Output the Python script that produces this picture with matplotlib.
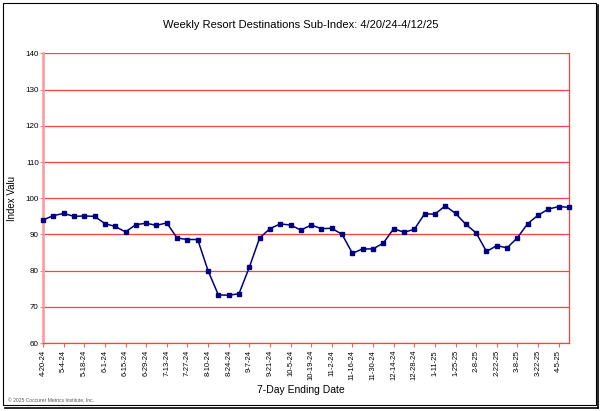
import matplotlib.pyplot as plt
import numpy as np
from matplotlib.patches import Rectangle
from matplotlib.lines import Line2D

plt.rcParams['font.family'] = ['Liberation Sans', 'DejaVu Sans']

# weekly index values, 4/20/24 .. 4/12/25
values = [94.0, 95.2, 95.8, 95.0, 95.1, 95.0, 93.0, 92.2, 90.7, 92.7,
          93.1, 92.5, 93.2, 89.0, 88.6, 88.6, 80.0, 73.3, 73.2, 73.6,
          80.9, 89.0, 91.6, 92.9, 92.6, 91.2, 92.6, 91.6, 91.7, 90.0,
          84.8, 86.0, 86.0, 87.6, 91.6, 90.6, 91.4, 95.7, 95.6, 97.9,
          95.8, 92.8, 90.4, 85.3, 86.9, 86.3, 89.1, 93.0, 95.3, 97.0,
          97.7, 97.5]

tick_labels = ['4-20-24', '5-4-24', '5-18-24', '6-1-24', '6-15-24', '6-29-24',
               '7-13-24', '7-27-24', '8-10-24', '8-24-24', '9-7-24', '9-21-24',
               '10-5-24', '10-19-24', '11-2-24', '11-16-24', '11-30-24',
               '12-14-24', '12-28-24', '1-11-25', '1-25-25', '2-8-25',
               '2-22-25', '3-8-25', '3-22-25', '4-5-25']

W, H = 602, 411
fig = plt.figure(figsize=(W / 100, H / 100), dpi=100)
ax = fig.add_axes([43 / W, 1 - 343 / H, (569 - 43) / W, (343 - 53.5) / H])

x = np.arange(len(values))
ax.plot(x, values, color='#000080', lw=1.1, marker='s', ms=2.8,
        markerfacecolor='#000080', markeredgecolor='#000080', clip_on=False, zorder=5)

ax.set_xlim(0, len(values) - 1)
ax.set_ylim(60, 140)
ax.set_yticks(range(60, 141, 10))
ax.set_xticks(x[::2])
ax.set_xticklabels(tick_labels, rotation=90, fontsize=5.5)
ax.tick_params(axis='y', labelsize=5.8, length=2, color='#ff8080', pad=1)
ax.tick_params(axis='x', length=3, color='#ff6060', pad=2)

ax.grid(axis='y', color='#ff4040', lw=0.9)
ax.set_axisbelow(True)
ax.spines['top'].set_visible(False)
ax.spines['right'].set_color('#ff4040')
ax.spines['right'].set_linewidth(0.9)
ax.spines['bottom'].set_color('#ff4040')
ax.spines['bottom'].set_linewidth(0.9)
ax.spines['left'].set_color('#ffa0a0')
ax.spines['left'].set_linewidth(2)

ax.set_ylabel('Index Valu', fontsize=7)
ax.yaxis.set_label_coords((17 - 43) / 526, 0.5)
fig.text(0.5, 1 - 390 / H, '7-Day Ending Date', ha='center', va='center', fontsize=7.5)
fig.text(0.5, 1 - 25 / H, 'Weekly Resort Destinations Sub-Index: 4/20/24-4/12/25',
         ha='center', va='center', fontsize=8.0)
fig.text(8 / W, 1 - 401 / H, '\u00a9 2025 Coccurer Metrics Institute, Inc.',
         ha='left', va='center', fontsize=3.6, color='#555555')

# outer frame with shadow
fig.add_artist(Rectangle((3 / W, 1 - 405 / H), 593 / W, 402 / H, transform=fig.transFigure,
                         fill=False, ec='black', lw=0.8))
fig.add_artist(Line2D([598 / W, 598 / W], [1 - 408 / H, 1 - 5 / H], transform=fig.transFigure,
                      color='black', lw=1.2))
fig.add_artist(Line2D([5 / W, 598 / W], [1 - 408 / H, 1 - 408 / H], transform=fig.transFigure,
                      color='black', lw=1.2))

fig.savefig('out.png', dpi=100)
